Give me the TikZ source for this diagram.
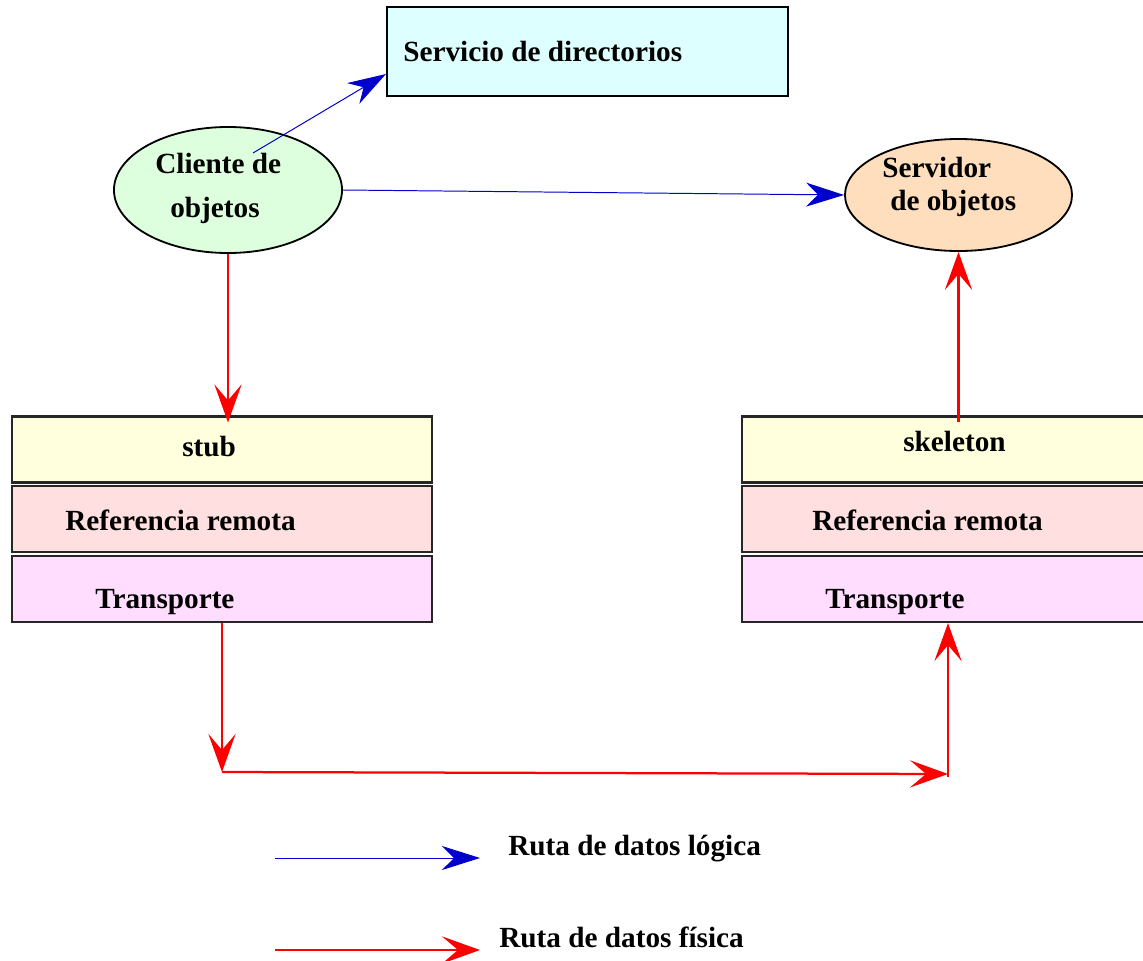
\documentclass[tikz,border=0pt]{standalone}
\usepackage{fontspec}
\setmainfont{Liberation Serif}
\usetikzlibrary{arrows.meta,shapes.geometric,calc}

\definecolor{dircyan}{RGB}{221,255,255}
\definecolor{cligreen}{RGB}{221,255,221}
\definecolor{srvpeach}{RGB}{255,222,190}
\definecolor{stubyellow}{RGB}{255,255,221}
\definecolor{refpink}{RGB}{255,223,223}
\definecolor{trmagenta}{RGB}{255,221,255}
\definecolor{logblue}{RGB}{0,0,204}

\tikzset{
	lbl/.style={anchor=base west,inner sep=0pt,font=\fontsize{20.8}{25}\selectfont\bfseries},
	layer/.style={draw=black!85,line width=1.5pt,minimum width=10.5cm,minimum height=1.65cm,inner sep=0pt},
	obj/.style={ellipse,draw=black,line width=1.3pt,inner sep=0pt},
	logic/.style={draw=logblue,line width=0.7pt,-{Stealth[length=0.95cm,width=0.6cm,inset=0.3cm]}},
	phys/.style={draw=red,line width=1.6pt,-{Stealth[length=0.95cm,width=0.68cm,inset=0.4cm]}}
}

\begin{document}
\begin{tikzpicture}[x=0.025cm,y=-0.025cm]
	\clip (0,0) rectangle (1143,960);

	% directorio y objetos
	\node[draw=black,line width=1.4pt,fill=dircyan,minimum width=10.025cm,minimum height=2.225cm,inner sep=0pt] (dir) at (587.5,51.5) {};
	\node[obj,fill=cligreen,minimum width=5.7cm,minimum height=3.15cm] (cli) at (228,190) {};
	\node[obj,fill=srvpeach,minimum width=5.675cm,minimum height=2.8cm] (srv) at (958.5,195) {};

	\node[lbl] (tdir) at (403,61) {Servicio de directorios};
	\node[lbl] (tcli1) at (155,173) {Cliente de};
	\node[lbl] (tcli2) at (170,217) {objetos};
	\node[lbl] (tsrv1) at (882,177) {Servidor};
	\node[lbl] (tsrv2) at (890,210) {de objetos};

	% capas del cliente
	\node[layer,fill=stubyellow] (stubL) at (222,449.5) {};
	\node[layer,fill=refpink] (refL) at (222,519) {};
	\node[layer,fill=trmagenta] (trL) at (222,589) {};
	\node[lbl] (tstub) at (182,456) {stub};
	\node[lbl] (trefL) at (65,530) {Referencia remota};
	\node[lbl] (ttrL) at (95,608) {Transporte};

	% capas del servidor
	\node[layer,fill=stubyellow] (skR) at (952,449.5) {};
	\node[layer,fill=refpink] (refR) at (952,519) {};
	\node[layer,fill=trmagenta] (trR) at (952,589) {};
	\node[lbl] (tsk) at (903,451) {skeleton};
	\node[lbl] (trefR) at (812,530) {Referencia remota};
	\node[lbl] (ttrR) at (825,608) {Transporte};

	% rutas
	\draw[logic] ($(cli)+(25,-37)$) -- ($(dir.south west)+(0,-23)$);
	\draw[logic] (cli.east) -- (srv.west);

	\draw[phys] (cli.south) -- ($(cli.south |- stubL.north)+(0,7)$);
	\draw[phys] (srv.south |- skR.north) ++(0,7) -- (srv.south);

	\coordinate (bajoL) at (222,772);
	\coordinate (bajoR) at (948,774);
	\draw[phys] (trL.south -| bajoL) -- (bajoL);
	\draw[phys] (bajoL) -- (bajoR);
	\draw[phys] ($(bajoR)+(0,3)$) -- (trR.south -| bajoR);

	% leyenda
	\coordinate (lg1a) at (275,858);
	\coordinate (lg1b) at (480,858);
	\coordinate (lg2a) at (275,950);
	\coordinate (lg2b) at (480,950);
	\draw[logic] (lg1a) -- (lg1b);
	\draw[phys,line width=1pt] (lg2a) -- (lg2b);
	\node[lbl] (tlog) at (508,855) {Ruta de datos lógica};
	\node[lbl] (tfis) at (499,947) {Ruta de datos física};
\end{tikzpicture}
\end{document}
